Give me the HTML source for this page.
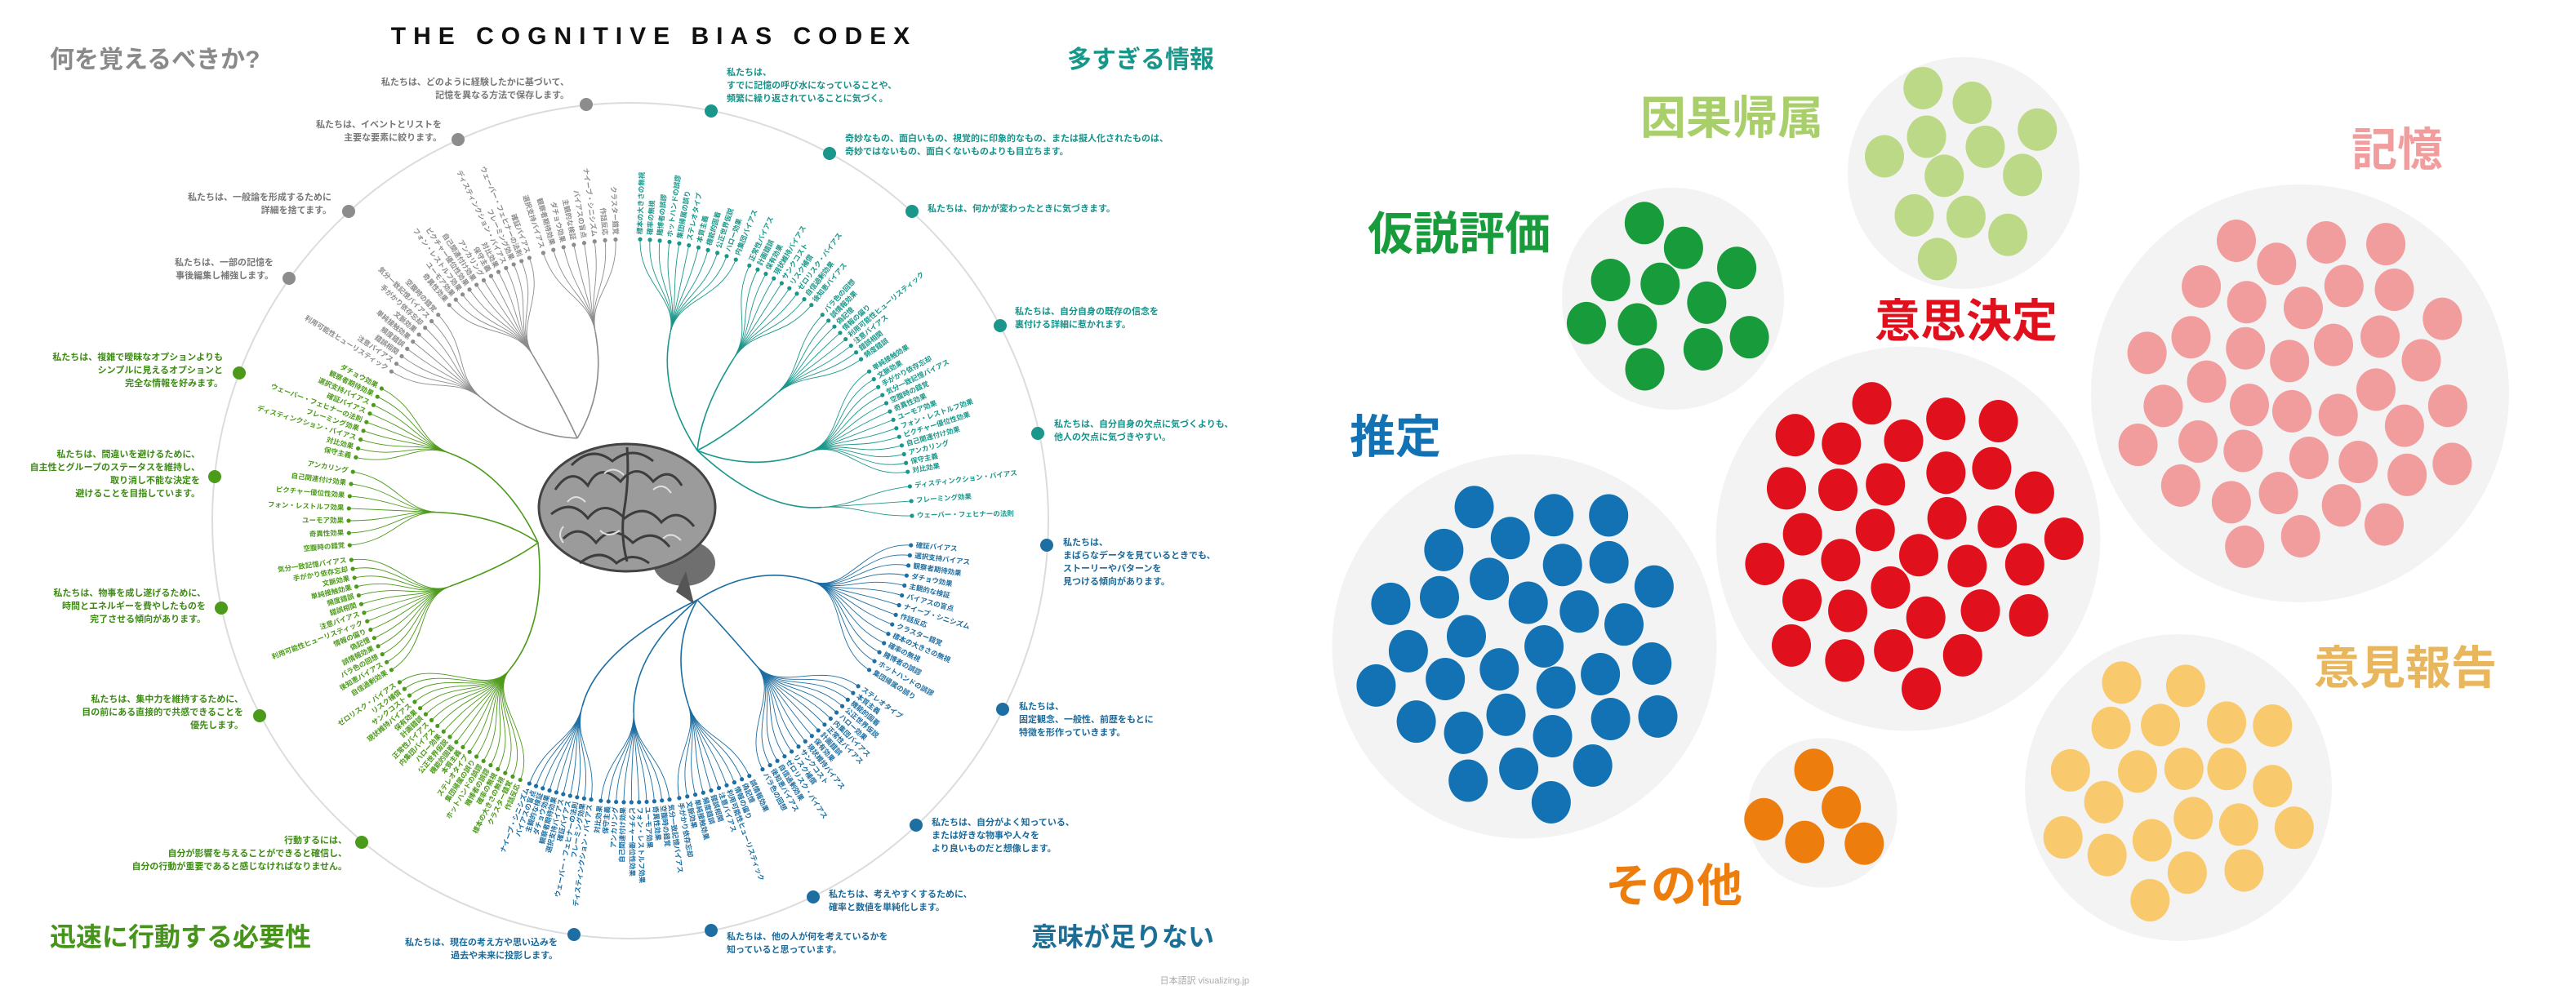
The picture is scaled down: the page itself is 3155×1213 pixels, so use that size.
<!DOCTYPE html>
<html><head><meta charset="utf-8">
<style>
html,body{margin:0;padding:0;background:#fff;}
svg{display:block;font-family:"Liberation Sans","Noto Sans CJK JP",sans-serif;}
</style></head>
<body>
<svg id="root" width="3155" height="1213" viewBox="0 0 3155 1213" xmlns="http://www.w3.org/2000/svg">
  <g id="codex">
    <text x="801" y="54" text-anchor="middle" font-size="30" font-weight="bold" letter-spacing="9" fill="#111">THE COGNITIVE BIAS CODEX</text>
    <text x="61" y="83" font-size="30" font-weight="bold" fill="#8a8a8a">何を覚えるべきか?</text>
    <text x="1487" y="83" text-anchor="end" font-size="30" font-weight="bold" fill="#17968a">多すぎる情報</text>
    <text x="61" y="1159" font-size="32" font-weight="bold" fill="#46951a">迅速に行動する必要性</text>
    <text x="1487" y="1159" text-anchor="end" font-size="32" font-weight="bold" fill="#1b6e96">意味が足りない</text>
    <circle cx="772" cy="638" r="512" fill="none" stroke="#dcdcdc" stroke-width="2"/>
    <g id="branches"></g>
    <g id="brain">
      <ellipse cx="838" cy="690" rx="38" ry="28" fill="#6f6f6f"/>
      <path d="M840 700 L850 740 L828 725 Z" fill="#555"/>
      <ellipse cx="768" cy="622" rx="108" ry="78" fill="#9b9b9b" stroke="#444" stroke-width="3"/>
      <path d="M680 600 q20 -30 40 -5 q15 -30 40 -5 q20 -25 40 0 q20 -20 35 5 M675 630 q25 -20 45 5 q20 -25 45 0 q25 -20 45 5 q20 -20 40 5 M690 660 q20 -20 40 5 q20 -25 45 0 q25 -20 45 5 M710 690 q25 -20 45 0 q20 -15 40 0 M700 570 q25 -25 50 -5 q25 -20 50 0 M768 548 q3 40 -4 80 q-4 30 4 60" fill="none" stroke="#3d3d3d" stroke-width="3"/>
      <path d="M695 615 q10 -12 22 0 M740 580 q12 -10 24 2 M800 600 q12 -10 22 4 M735 650 q10 10 24 0 M812 660 q10 -10 22 2 M690 645 q-8 10 0 20" fill="none" stroke="#e0e0e0" stroke-width="2"/>
    </g>
    <g id="annotations"></g>
    <text x="1530" y="1205" text-anchor="end" font-size="11" fill="#aaa">日本語訳 visualizing.jp</text>
  </g>
  <g id="bubbles"></g>
</svg>
<script>
// ---------- Bubble chart data ----------
const bubbleCats = ['推定','意思決定','記憶','因果帰属','仮説評価','意見報告','その他'];
const bubbleCounts = [33, 33, 39, 12, 11, 21, 5];
const bubbleColors = ['#1372b4','#e0101d','#f19c9d','#bcd987','#189b3b','#f9c96d','#ed7d0d'];
const labelColors = ['#1372b4','#e0101d','#f19c9d','#a9cf6a','#189b3b','#e8b75d','#ed7d0d'];
// layout (not data): bubble centres and label anchors
const bubbleCx = [1867, 2337, 2817, 2405, 2049, 2668, 2232];
const bubbleCy = [792, 660, 482, 212, 366, 965, 996];
const labelX = [1653, 2296, 2880, 2009, 1675, 2834, 1966];
const labelY = [555, 413, 203, 164, 306, 838, 1105];

// ---------- Codex data ----------
const codexStart = [-58,-40,-18, 2,25,43,58,83, 95,126,155,172,188, 203,238,265,283];
const codexEnd   = [-43,-21,-3, 22,40,55,80,89, 122,152,170,186,201, 235,262,280,298];
const codexCount = [9,12,8, 11,9,8,13,3, 14,16,10,10,10, 20,14,7,9];
const codexFamily= [0,0,0, 1,1,1,1,1, 2,2,2,2,2, 3,3,3,3];
const biasNames = ['利用可能性ヒューリスティック','注意バイアス','錯誤相関','頻度錯誤','単純接触効果','文脈効果','手がかり依存忘却','気分一致記憶バイアス','空腹時の錯覚','奇異性効果','ユーモア効果','フォン・レストルフ効果','ピクチャー優位性効果','自己関連付け効果','アンカリング','保守主義','対比効果','ディスティンクション・バイアス','フレーミング効果','ウェーバー・フェヒナーの法則','確証バイアス','選択支持バイアス','観察者期待効果','ダチョウ効果','主観的な検証','バイアスの盲点','ナイーブ・シニシズム','作話反応','クラスター錯覚','標本の大きさの無視','確率の無視','賭博者の誤謬','ホットハンドの誤謬','集団帰属の誤り','ステレオタイプ','本質主義','機能的固着','公正世界仮説','ハロー効果','内集団バイアス','正常性バイアス','計画錯誤','保有効果','現状維持バイアス','サンクコスト','リスク補償','ゼロリスク・バイアス','自信過剰効果','後知恵バイアス','バラ色の回想','誤情報効果','偽記憶','情報の偏り'];
const famColor = ['#8c8c8c','#1a978a','#1d6ea2','#4c9a1a'];
const famRootX = [707, 854, 854, 659];
const famRootY = [537, 552, 735, 665];

const annoText = [
 ['私たちは、どのように経験したかに基づいて、','記憶を異なる方法で保存します。'],
 ['私たちは、イベントとリストを','主要な要素に絞ります。'],
 ['私たちは、一般論を形成するために','詳細を捨てます。'],
 ['私たちは、一部の記憶を','事後編集し補強します。'],
 ['私たちは、複雑で曖昧なオプションよりも','シンプルに見えるオプションと','完全な情報を好みます。'],
 ['私たちは、間違いを避けるために、','自主性とグループのステータスを維持し、','取り消し不能な決定を','避けることを目指しています。'],
 ['私たちは、物事を成し遂げるために、','時間とエネルギーを費やしたものを','完了させる傾向があります。'],
 ['私たちは、集中力を維持するために、','目の前にある直接的で共感できることを','優先します。'],
 ['行動するには、','自分が影響を与えることができると確信し、','自分の行動が重要であると感じなければなりません。'],
 ['私たちは、','すでに記憶の呼び水になっていることや、','頻繁に繰り返されていることに気づく。'],
 ['奇妙なもの、面白いもの、視覚的に印象的なもの、または擬人化されたものは、','奇妙ではないもの、面白くないものよりも目立ちます。'],
 ['私たちは、何かが変わったときに気づきます。'],
 ['私たちは、自分自身の既存の信念を','裏付ける詳細に惹かれます。'],
 ['私たちは、自分自身の欠点に気づくよりも、','他人の欠点に気づきやすい。'],
 ['私たちは、','まばらなデータを見ているときでも、','ストーリーやパターンを','見つける傾向があります。'],
 ['私たちは、','固定観念、一般性、前歴をもとに','特徴を形作っていきます。'],
 ['私たちは、自分がよく知っている、','または好きな物事や人々を','より良いものだと想像します。'],
 ['私たちは、考えやすくするために、','確率と数値を単純化します。'],
 ['私たちは、他の人が何を考えているかを','知っていると思っています。'],
 ['私たちは、現在の考え方や思い込みを','過去や未来に投影します。']
];
const annoFam = [0,0,0,0,3,3,3,3,3,1,1,1,1,1,2,2,2,2,2,2];
const annoDotX = [718,561,427,354,293,263,271,318,443,871,1016,1117,1225,1271,1282,1228,1122,996,871,703];
const annoDotY = [128,171,259,341,457,584,745,877,1032,136,188,259,399,531,668,869,1011,1099,1140,1145];
const annoTx = [697,541,406,335,273,245,252,298,425,890,1035,1136,1243,1291,1302,1248,1141,1015,890,683];
const annoTy = [104,156,245,325,441,560,730,860,1033,92,173,259,385,523,668,869,1011,1099,1151,1158];
const annoTextColor = ['#777','#18928a','#1b6a9a','#3d8b14'];

const NS='http://www.w3.org/2000/svg';
function mk(tag, attrs, parent){const e=document.createElementNS(NS,tag);for(const k in attrs)e.setAttribute(k,attrs[k]);parent.appendChild(e);return e;}

// ---------- draw bubbles ----------
const bg = document.getElementById('bubbles');
const DOT_R = 24, K = 41, SPACING = 34;
for(let b=0;b<bubbleCats.length;b++){
  const n = bubbleCounts[b];
  const R = K*Math.sqrt(n);
  const g = mk('g',{},bg);
  
  
  const c = mk('circle',{cx:bubbleCx[b],cy:bubbleCy[b],r:R,fill:'#f3f3f3'},g);
  
  
  for(let i=0;i<n;i++){
    const rr = SPACING*Math.sqrt(i+0.5);
    const a = i*2.39996 + b;
    const d = mk('ellipse',{cx:bubbleCx[b]+rr*Math.cos(a),cy:bubbleCy[b]+rr*Math.sin(a),rx:DOT_R,ry:DOT_R+2,fill:bubbleColors[b]},g);
    
    
  }
  const t = mk('text',{x:labelX[b],y:labelY[b],'font-size':56,'font-weight':'bold',fill:labelColors[b]},bg);
  t.textContent = bubbleCats[b];
  
  
}

// ---------- draw codex ----------
const CX=772, CY=638, LEAF_R=345, HUB_R=235;
function pt(deg,r){const a=deg*Math.PI/180;return [CX+r*Math.sin(a), CY-r*Math.cos(a)];}
const br = document.getElementById('branches');
let nameIdx=0;
for(let gi=0;gi<codexStart.length;gi++){
  const f=codexFamily[gi], col=famColor[f];
  const mid=(codexStart[gi]+codexEnd[gi])/2;
  const hub=pt(mid,HUB_R);
  const rx=famRootX[f], ry=famRootY[f];
  const g=mk('g',{},br);
  
  
  const cm=pt(mid,(HUB_R+90)/2);
  const trunk=mk('path',{d:`M${rx} ${ry} Q${cm[0]} ${cm[1]} ${hub[0]} ${hub[1]}`,fill:'none',stroke:col,'stroke-width':1.6},g);
  
  
  const n=codexCount[gi];
  for(let i=0;i<n;i++){
    const ang=n===1?mid:codexStart[gi]+(codexEnd[gi]-codexStart[gi])*i/(n-1);
    const lf=pt(ang,LEAF_R), c1=pt(mid,HUB_R+45), c2=pt(ang,LEAF_R-55);
    const p=mk('path',{d:`M${hub[0]} ${hub[1]} C${c1[0]} ${c1[1]} ${c2[0]} ${c2[1]} ${lf[0]} ${lf[1]}`,fill:'none',stroke:col,'stroke-width':0.9},g);
    
    
    const d=mk('circle',{cx:lf[0],cy:lf[1],r:2.6,fill:col},g);
    
    
    const lp=pt(ang,LEAF_R+6);
    const norm=((ang%360)+360)%360;
    const right = norm<180;
    const rot = right? ang-90 : ang+90;
    const t=mk('text',{x:lp[0],y:lp[1],'font-size':8.5,'font-weight':'bold',fill:col,'text-anchor':right?'start':'end','dominant-baseline':'middle',transform:`rotate(${rot} ${lp[0]} ${lp[1]})`},g);
    t.textContent=biasNames[nameIdx%biasNames.length];nameIdx++;
    
    
  }
}
const an=document.getElementById('annotations');
for(let i=0;i<annoText.length;i++){
  const f=annoFam[i];
  const g=mk('g',{},an);
  
  
  const d=mk('circle',{cx:annoDotX[i],cy:annoDotY[i],r:8,fill:famColor[f]},g);
  
  
  const left = annoTx[i] < annoDotX[i];
  const t=mk('text',{x:annoTx[i],y:annoTy[i],'font-size':11,'font-weight':'bold',fill:annoTextColor[f],'text-anchor':left?'end':'start'},g);
  
  
  annoText[i].forEach((line,k)=>{const s=mk('tspan',{x:annoTx[i],dy:k===0?0:16},t);s.textContent=line;});
}
</script>
</body></html>
